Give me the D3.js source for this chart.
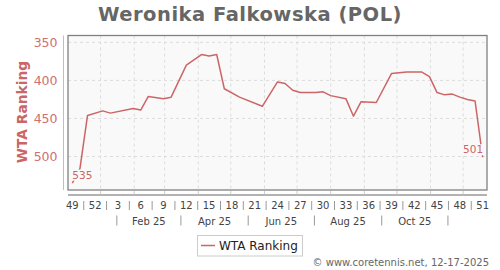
<!DOCTYPE html>
<html><head><meta charset="utf-8">
<script src="https://cdn.jsdelivr.net/npm/d3@7"></script>
<style>body{margin:0;background:#fff;}svg{display:block;font-family:"DejaVu Sans",sans-serif;}</style>
</head><body>
<svg id="c" width="500" height="270"></svg>
<script>
// ---- data ----
const pointDates = ["2024-12-06","2024-12-13","2024-12-20","2025-01-03","2025-01-10","2025-01-31","2025-02-07","2025-02-14","2025-02-28","2025-03-07","2025-03-21","2025-04-04","2025-04-11","2025-04-18","2025-04-25","2025-05-09","2025-05-30","2025-06-13","2025-06-20","2025-06-27","2025-07-04","2025-07-18","2025-07-25","2025-08-01","2025-08-15","2025-08-22","2025-08-29","2025-09-12","2025-09-26","2025-10-10","2025-10-24","2025-10-31","2025-11-07","2025-11-14","2025-11-21","2025-11-28","2025-12-05","2025-12-12","2025-12-19"];
const rankings = [535,516,446,440,443,437,439,421,424,422,380,366,368,366,411,422,434,402,404,413,416,416,415,420,424,447,428,429,391,389,389,395,416,419,418,422,425,427,501];
const weekTickLabels = [49,52,3,6,9,12,15,18,21,24,27,30,33,36,39,42,45,48,51];
const yTicks = [350,400,450,500];
const monthLabels = ["Feb 25","Apr 25","Jun 25","Aug 25","Oct 25"];
const monthSepDates = ["2025-01-16","2025-03-16","2025-05-17","2025-07-17","2025-09-17","2025-11-17"];
const title = "Weronika Falkowska (POL)";
const seriesName = "WTA Ranking";

// ---- setup ----
const parse = d3.utcParse("%Y-%m-%d");
const dates = pointDates.map(parse);
const data = dates.map((d,i)=>({d, v: rankings[i]}));
const svg = d3.select("#c");
const L=68, R=487, T=35.5, B=190;
const red = "#cc6666";
const first = dates[0], last = dates[dates.length-1];
const x = d3.scaleUtc().domain([d3.utcDay.offset(first,-4), d3.utcDay.offset(last,4)]).range([L,R]);
const y = d3.scaleLinear().domain([341,544]).range([T,B]);

// title
svg.append("text").attr("x",250).attr("y",20.5).attr("text-anchor","middle")
  .attr("font-size",19.5).attr("letter-spacing",0.5).attr("font-weight","bold").attr("fill","#666").text(title);

// plot bg
svg.append("rect").attr("x",L).attr("y",T).attr("width",R-L).attr("height",B-T).attr("fill","#f9f9f9");

// grid
const monthTicks = d3.utcMonth.range(parse("2025-01-01"), d3.utcDay.offset(last,1));
const g = svg.append("g");
g.selectAll("line.v").data(monthTicks).join("line")
  .attr("x1",d=>x(d)).attr("x2",d=>x(d)).attr("y1",T).attr("y2",B)
  .attr("stroke","#dcdcdc").attr("stroke-dasharray","3,3");
g.selectAll("line.h").data(yTicks).join("line")
  .attr("x1",L).attr("x2",R).attr("y1",d=>y(d)).attr("y2",d=>y(d))
  .attr("stroke","#dcdcdc").attr("stroke-dasharray","3,3");

// line
const line = d3.line().x(d=>x(d.d)).y(d=>y(d.v));
svg.append("path").datum(data).attr("d",line).attr("fill","none")
  .attr("stroke",red).attr("stroke-width",1.5).attr("stroke-linejoin","round");

// data labels (with bg)
function dlabel(p, anchor, dx, dy){
  const t = svg.append("text").attr("x",x(p.d)+dx).attr("y",y(p.v)+dy)
    .attr("text-anchor",anchor).attr("font-size",10.5).attr("fill",red).text(p.v);
  const bb = t.node().getBBox();
  svg.insert("rect", function(){return t.node();}).attr("x",bb.x-1).attr("y",bb.y+1).attr("width",bb.width+2).attr("height",bb.height-1).attr("fill","#f9f9f9");
}
dlabel(data[0],"start",0,-4.5);
dlabel(data[data.length-1],"end",0.5,-4);

// border
svg.append("rect").attr("x",L).attr("y",T).attr("width",R-L).attr("height",B-T)
  .attr("fill","none").attr("stroke","#808080").attr("stroke-width",1.3);

// y axis
const ya = svg.append("g").attr("transform",`translate(63.5,0)`)
  .call(d3.axisLeft(y).tickValues(yTicks).tickSize(0).tickPadding(6));
ya.select(".domain").attr("stroke","#e2b0b0").attr("d",`M0,${T}V${B}`);
ya.selectAll("text").attr("fill","#d07070").attr("font-size",12.5).attr("font-family","DejaVu Sans");
svg.append("text").attr("transform","translate(26.5,112) rotate(-90)").attr("text-anchor","middle")
  .attr("font-size",13.8).attr("font-weight","bold").attr("fill","#cc6666").text(seriesName);

// x axis
const axY = 195;
svg.append("line").attr("x1",L).attr("x2",R).attr("y1",axY).attr("y2",axY).attr("stroke","#999").attr("stroke-width",1.3);
svg.selectAll("line.mt").data(monthTicks).join("line")
  .attr("x1",d=>x(d)).attr("x2",d=>x(d)).attr("y1",axY-4).attr("y2",axY-0.5).attr("stroke","#ccc");
const weekTickDates = weekTickLabels.map((w,i)=>d3.utcDay.offset(first,21*i));
svg.selectAll("text.wk").data(weekTickLabels).join("text")
  .attr("x",(d,i)=>x(weekTickDates[i])).attr("y",209).attr("text-anchor","middle")
  .attr("font-size",10).attr("fill","#444").text(d=>d);
const seps = weekTickDates.slice(1).map((d,i)=>(x(d)+x(weekTickDates[i]))/2);
svg.selectAll("line.ws").data(seps).join("line")
  .attr("x1",d=>d).attr("x2",d=>d).attr("y1",201).attr("y2",210).attr("stroke","#999");
const msx = monthSepDates.map(s=>x(parse(s)));
svg.selectAll("line.ms").data(msx).join("line")
  .attr("x1",d=>d).attr("x2",d=>d).attr("y1",215.5).attr("y2",225.5).attr("stroke","#999");
svg.selectAll("text.ml").data(monthLabels).join("text")
  .attr("x",(d,i)=>(msx[i]+msx[i+1])/2).attr("y",224.5).attr("text-anchor","middle")
  .attr("font-size",10).attr("fill","#444").text(d=>d);

// legend
svg.append("rect").attr("x",197.5).attr("y",235.5).attr("width",105).attr("height",20.5)
  .attr("fill","#fff").attr("stroke","#ccc");
svg.append("line").attr("x1",201).attr("x2",215).attr("y1",245.5).attr("y2",245.5).attr("stroke",red).attr("stroke-width",1.5);
svg.append("text").attr("x",219).attr("y",250).attr("font-size",12).attr("fill","#222").text(seriesName);

// credit
svg.append("text").attr("x",489).attr("y",266).attr("text-anchor","end")
  .attr("font-size",10).attr("fill","#666").text("© www.coretennis.net, 12-17-2025");
</script>
</body></html>
